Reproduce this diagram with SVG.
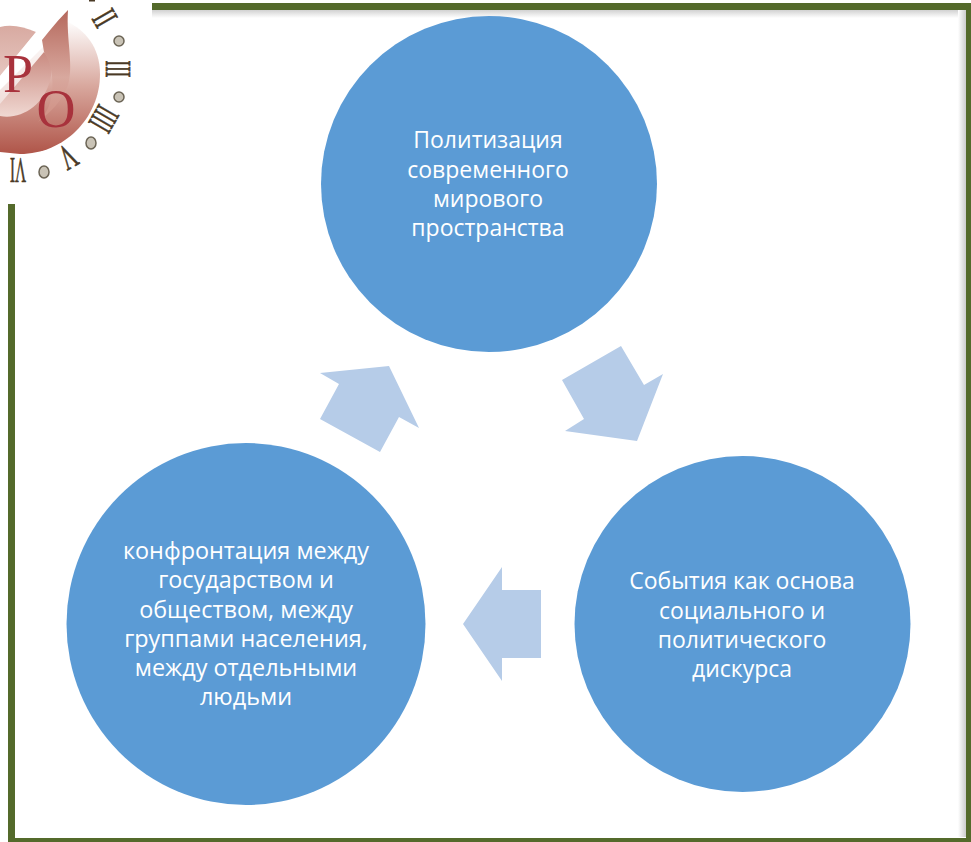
<svg xmlns="http://www.w3.org/2000/svg" width="971" height="842" viewBox="0 0 971 842">
<style>
.c{fill:#5b9bd5}
.a{fill:#b6cce8}
.f{fill:#546a2b}
.t{font-family:"Open Sans","Noto Sans",sans-serif;font-size:23.4px;fill:#fff;text-anchor:middle}
.u{font-size:23px}
.n{font-family:"Liberation Serif",serif;fill:#4a3a26;stroke:#4a3a26;stroke-width:.7px;text-anchor:middle;font-size:36px}
.l{font-family:"Liberation Serif",serif;fill:#a8323c;text-anchor:middle;font-size:54px}
.o{fill:#c9c3b6;stroke:#6b6455;stroke-width:1.500px}
</style>
<defs>
<linearGradient id="d" gradientUnits="userSpaceOnUse" x1="0" y1="20" x2="0" y2="153"><stop offset="0" stop-color="#fff"/><stop offset=".5" stop-color="#d8a79d"/><stop offset="1" stop-color="#b0564a"/></linearGradient>
<linearGradient id="u" x1="0" y1="0" x2="0" y2="1"><stop offset="0" stop-color="#d8aaa1"/><stop offset="1" stop-color="#e6c6bf"/></linearGradient>
<linearGradient id="r" x1="0" y1="0" x2="0" y2="1"><stop offset="0" stop-color="#c98a80"/><stop offset="1" stop-color="#f0d8d2"/></linearGradient>
<linearGradient id="t" x1="0" y1="0" x2="0" y2="1"><stop offset="0" stop-color="#b5685c"/><stop offset=".6" stop-color="#d8a89e"/><stop offset="1" stop-color="#cf8e82"/></linearGradient>
<linearGradient id="s1" x1="0" y1="0" x2="0" y2="1"><stop offset="0" stop-color="#ccc"/><stop offset="1" stop-color="#fff"/></linearGradient>
<linearGradient id="s2" x1="0" y1="0" x2="1" y2="0"><stop offset="0" stop-color="#fff"/><stop offset="1" stop-color="#ccc"/></linearGradient>
</defs>
<rect width="971" height="842" fill="#fff"/>
<g id="frame">
<rect x="152" y="9" width="813" height="9" fill="url(#s1)"/>
<rect x="958" y="9" width="8" height="828" fill="url(#s2)"/>
<rect class="f" x="152" y="3" width="819" height="7"/>
<rect class="f" x="966" y="3" width="5" height="839"/>
<rect class="f" x="8" y="204" width="7" height="638"/>
<rect class="f" x="8" y="838" width="963" height="4"/>
</g>
<g id="logo">
<path d="M68 22C84 30 100 46 100 74C100 118 64 154 20 154L0 152L0 90Z" fill="url(#d)"/>
<path d="M0 27C12 24 24 27 36 32L0 76Z" fill="url(#u)"/>
<path d="M0 76L36 32C44 36 50 40 54 46L0 110Z" fill="#fff" opacity=".7"/>
<path d="M0 116C20 120 44 106 50 80C54 68 50 58 44 52L0 104Z" fill="url(#r)"/>
<path d="M68 10C66 40 74 65 68 85C62 102 50 112 38 122L46 112C54 100 56 70 44 52L42 40C50 30 60 18 68 10Z" fill="url(#t)"/>
<text class="l" x="18" y="92">Р</text>
<text class="l" x="56" y="127">О</text>
<rect x="89" y="0" width="6" height="1.500" fill="#4a3a26"/>
<text class="n" transform="translate(94.600,24) rotate(60) scale(.54,1)">II</text>
<text class="n" transform="translate(106,69) rotate(90) scale(.47,1)">III</text>
<text class="n" transform="translate(93.600,113) rotate(120) scale(.48,1)">IIII</text>
<text class="n" transform="translate(62,146.600) rotate(150) scale(.58,1)">V</text>
<text class="n" transform="translate(18,158) rotate(180) scale(.42,1)">VI</text>
<ellipse class="o" cx="119" cy="41" rx="5" ry="5"/>
<ellipse class="o" cx="119" cy="97" rx="5" ry="5"/>
<ellipse class="o" cx="91" cy="143" rx="5" ry="6"/>
<ellipse class="o" cx="44" cy="172" rx="5" ry="6"/>
</g>
<g id="connectors">
<polygon class="a" points="562,380 621,346 644,385 663,374 637,441 565,431 584,419"/>
<polygon class="a" points="541,590 502,590 502,567 463,624 502,681 502,658 541,658"/>
<polygon class="a" points="320,373 389,366 419,428 399,417 380,452 320,419 339,384"/>
</g>
<g id="node-top">
<circle class="c" cx="489" cy="184" r="168"/>
<text class="t u" x="488" y="148">Политизация</text>
<text class="t u" x="488" y="178">современного</text>
<text class="t u" x="488" y="207">мирового</text>
<text class="t u" x="488" y="236">пространства</text>
</g>
<g id="node-right">
<circle class="c" cx="742.500" cy="624" r="168"/>
<text class="t u" x="742" y="589">События как основа</text>
<text class="t u" x="742" y="619">социального и</text>
<text class="t u" x="742" y="648">политического</text>
<text class="t u" x="742" y="677">дискурса</text>
</g>
<g id="node-left">
<ellipse class="c" cx="246" cy="624" rx="179.500" ry="181"/>
<text class="t" x="246" y="559">конфронтация между</text>
<text class="t" x="246" y="588">государством и</text>
<text class="t" x="246" y="618">обществом, между</text>
<text class="t" x="246" y="647">группами населения,</text>
<text class="t" x="246" y="676">между отдельными</text>
<text class="t" x="246" y="705">людьми</text>
</g>
</svg>
